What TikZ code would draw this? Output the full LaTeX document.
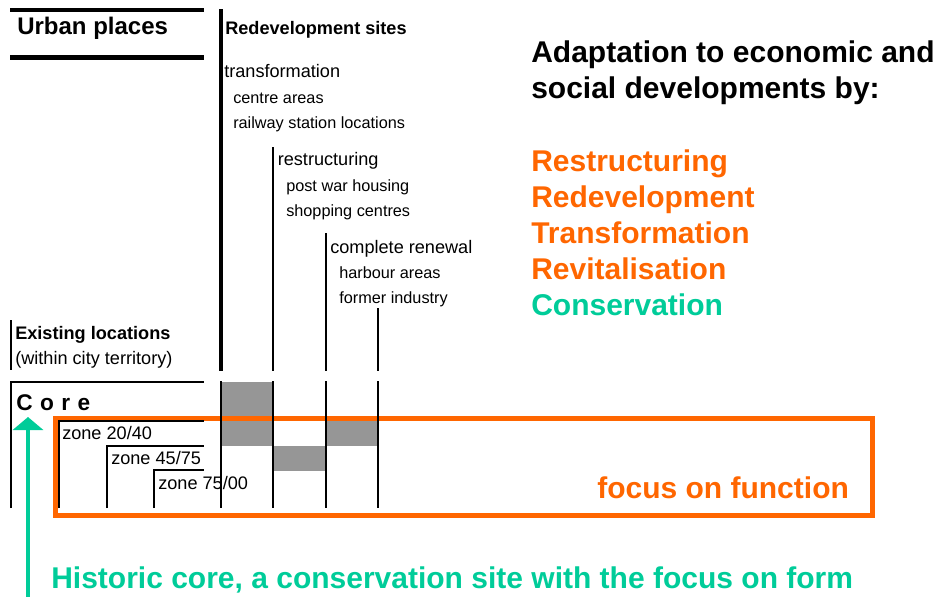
\documentclass[tikz,border=0pt]{standalone}
\usepackage{fontspec}
\setmainfont{Liberation Sans}
\usetikzlibrary{arrows.meta}
\definecolor{orng}{HTML}{FF6600}
\definecolor{grn}{HTML}{00CC99}
\definecolor{shadegray}{HTML}{969696}

\begin{document}
\begin{tikzpicture}[
                x=0.75pt, y=-0.75pt,
                every node/.append style={anchor=base west,inner sep=0pt},
                bigtxt/.style={font=\fontsize{18}{20}\selectfont\bfseries},
                headtxt/.style={font=\fontsize{13.6}{16}\selectfont},
                subtxt/.style={font=\fontsize{12.2}{14}\selectfont},
                coretxt/.style={font=\fontsize{17}{20}\selectfont\bfseries},
                adapt/.style={font=\fontsize{22.5}{26}\selectfont\bfseries},
                barthick/.style={line width=3pt},
                barthin/.style={line width=1.5pt}
            ]
                \useasboundingbox (0,0) rectangle (937,596);

                % left heading
                \draw[barthick] (10,10) -- (204,10);
                \draw[line width=4pt] (10,57.5) -- (204,57.5);
                \node (urban) [bigtxt] at (17,34) {Urban places};

                % redevelopment columns
                \draw[barthick] (220.5,9) -- (220.5,371);
                \draw[barthin] (273,147) -- (273,371);
                \draw[barthin] (326,233) -- (326,371);
                \draw[barthin] (378,308) -- (378,371);
                \node (redev) [headtxt,font=\fontsize{13.6}{16}\selectfont\bfseries] at (225,34.5) {Redevelopment sites};
                \node (trf)  [headtxt] at (224,77.7) {transformation};
                \node (cen)  [subtxt]  at (233,103)  {centre areas};
                \node (rail) [subtxt]  at (233,128)  {railway station locations};
                \node (rst)  [headtxt] at (277.5,165) {restructuring};
                \node (pwh)  [subtxt]  at (286,191)  {post war housing};
                \node (shop) [subtxt]  at (286,216)  {shopping centres};
                \node (ren)  [headtxt] at (330,253)  {complete renewal};
                \node (harb) [subtxt]  at (339,278)  {harbour areas};
                \node (ind)  [subtxt]  at (339,303)  {former industry};

                % existing locations
                \draw[barthin] (11,320) -- (11,370);
                \node (exist) [headtxt,font=\fontsize{13.6}{16}\selectfont\bfseries] at (15,339) {Existing locations};
                \node (terr)  [headtxt] at (15,364) {(within city territory)};

                % grey fields
                \fill[shadegray] (221,382) rectangle (273,446);
                \fill[shadegray] (273,446) rectangle (326,470.5);
                \fill[shadegray] (326,420) rectangle (378,446);

                % focus on function
                \draw[orng,line width=3.75pt] (55.5,418) rectangle (872.5,515.5);
                \node (func) [adapt,text=orng] at (597,498) {focus on function};

                % core and zones
                \draw[barthin] (11,508) -- (11,381.5) -- (204,381.5);
                \draw[barthin] (59,508) -- (59,421) -- (204,421);
                \draw[barthin] (107,508) -- (107,445.5) -- (204,445.5);
                \draw[barthin] (154,508) -- (154,470) -- (204,470);
                \draw[line width=2pt] (221,381) -- (221,508);
                \draw[barthin] (273,381) -- (273,508);
                \draw[barthin] (326,381) -- (326,508);
                \draw[barthin] (378,381) -- (378,508);
                \node (core) [coretxt] at (16,410) {C\hspace{0.33em}o\hspace{0.33em}r\hspace{0.33em}e};
                \node (z1) [headtxt] at (62,439)  {zone 20/40};
                \node (z2) [headtxt] at (111,464) {zone 45/75};
                \node (z3) [headtxt] at (158,489) {zone 75/00};

                % adaptation list
                \node (ad1) [adapt] at (531,62) {Adaptation to economic and};
                \node (ad2) [adapt] at (531,98) {social developments by:};
                \node (w1) [adapt,text=orng] at (531,171) {Restructuring};
                \node (w2) [adapt,text=orng] at (531,207) {Redevelopment};
                \node (w3) [adapt,text=orng] at (531,243) {Transformation};
                \node (w4) [adapt,text=orng] at (531,279) {Revitalisation};
                \node (w5) [adapt,text=grn]  at (531,315) {Conservation};

                % historic core
                \coordinate (hbase) at (28,597);
                \coordinate (htip)  at (28,417);
                \draw[grn,line width=3.4pt,-{Triangle[width=22.5pt,length=9.75pt]}] (hbase) -- (htip);
                \node (hist) [adapt,text=grn] at (51,588) {Historic core, a conservation site with the focus on form};
            \end{tikzpicture}
\end{document}
